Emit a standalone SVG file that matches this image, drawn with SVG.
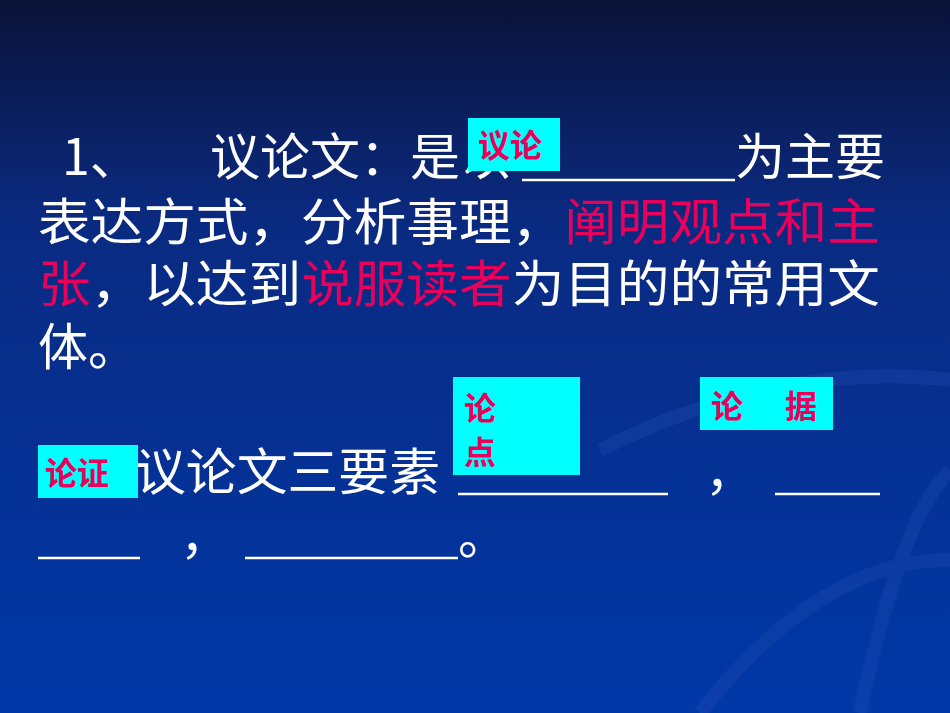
<svg xmlns="http://www.w3.org/2000/svg" width="950" height="713" viewBox="0 0 950 713">
<style>
.t{font-family:"Noto Sans CJK SC","Liberation Serif",serif;font-size:50px;fill:#ffffff}
.r{fill:#e8005a}
.b{fill:#00ffff}
.bl{font-family:"Noto Sans CJK SC","Liberation Sans",sans-serif;font-size:32px;font-weight:bold;fill:#e8005a}
.u{stroke:#ffffff;stroke-width:2.5}
</style>
<defs>
<linearGradient id="bg" x1="0" y1="0" x2="0" y2="1">
<stop offset="0" stop-color="#0a1238"/>
<stop offset="0.3" stop-color="#0a2a80"/>
<stop offset="1" stop-color="#0038a8"/>
</linearGradient>
</defs>
<rect width="950" height="713" fill="url(#bg)"/>
<g fill="none" stroke="#2a55b8" stroke-width="14" opacity="0.25">
<path d="M600 450 Q780 360 950 380"/>
<path d="M860 713 Q900 520 950 470"/>
<path d="M700 713 Q820 560 950 560"/>
</g>
<g id="text">
<text class="t" x="62" y="175">1、</text>
<text class="t" x="210" y="175">议论文：是以</text>
<line class="u" x1="522" y1="180" x2="735" y2="180"/>
<text class="t" x="735" y="175">为主要</text>
<text class="t" x="38" y="240" textLength="842" lengthAdjust="spacingAndGlyphs">表达方式，分析事理，<tspan class="r">阐明观点和主</tspan></text>
<text class="t" x="38" y="302" textLength="842" lengthAdjust="spacingAndGlyphs"><tspan class="r">张</tspan>，以达到<tspan class="r">说服读者</tspan>为目的的常用文</text>
<text class="t" x="38" y="365">体。</text>
<text class="t" x="135" y="490" textLength="305" lengthAdjust="spacingAndGlyphs">议论文三要素</text>
<line class="u" x1="458" y1="494" x2="668" y2="494"/>
<text class="t" x="705" y="490">，</text>
<line class="u" x1="775" y1="494" x2="880" y2="494"/>
<line class="u" x1="38" y1="558" x2="140" y2="558"/>
<text class="t" x="180" y="554">，</text>
<line class="u" x1="245" y1="558" x2="458" y2="558"/>
<text class="t" x="458" y="554">。</text>
</g>
<g id="box-yilun">
<rect class="b" x="468" y="118" width="92" height="53"/>
<text class="bl" x="478" y="157">议论</text>
</g>
<g id="box-lundian">
<rect class="b" x="453" y="377" width="127" height="98"/>
<text class="bl" x="464" y="420">论</text>
<text class="bl" x="464" y="464">点</text>
</g>
<g id="box-lunju">
<rect class="b" x="700" y="377" width="133" height="53"/>
<text class="bl" x="711" y="418">论</text>
<text class="bl" x="785" y="418">据</text>
</g>
<g id="box-lunzheng">
<rect class="b" x="38" y="445" width="100" height="53"/>
<text class="bl" x="45" y="485">论证</text>
</g>
<g id="connectors"/>
</svg>
